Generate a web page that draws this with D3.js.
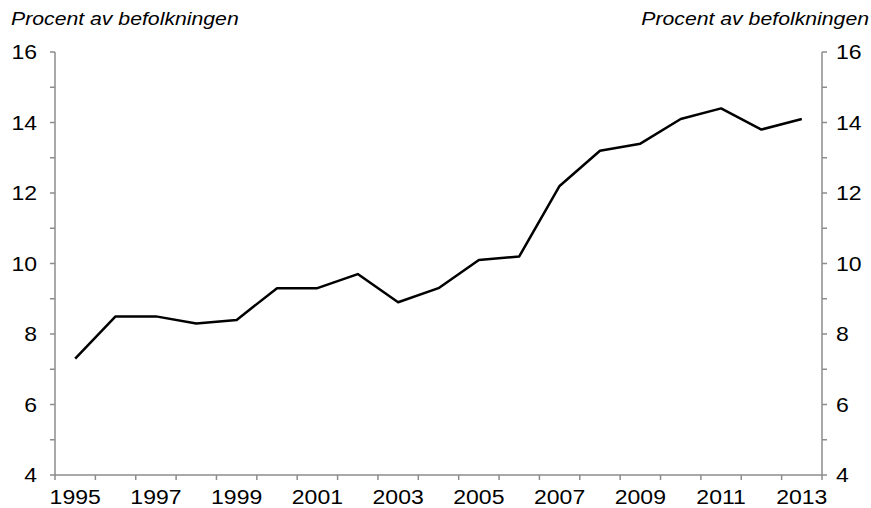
<!DOCTYPE html>
<html>
<head>
<meta charset="utf-8">
<script src="https://cdn.jsdelivr.net/npm/d3@7"></script>
<style>
  body { margin: 0; background: #fff; }
  text { font-family: "Liberation Sans", Arial, sans-serif; }
</style>
</head>
<body>
<div id="chart"></div>
<script>
// data
var years = [1995, 1996, 1997, 1998, 1999, 2000, 2001, 2002, 2003, 2004,
             2005, 2006, 2007, 2008, 2009, 2010, 2011, 2012, 2013];
var values = [7.3, 8.5, 8.5, 8.3, 8.4, 9.3, 9.3, 9.7, 8.9, 9.3,
              10.1, 10.2, 12.2, 13.2, 13.4, 14.1, 14.4, 13.8, 14.1];
var yTicks = [4, 6, 8, 10, 12, 14, 16];
var yMinor = [5, 7, 9, 11, 13, 15];
var axisTitle = "Procent av befolkningen";

var W = 871, H = 508;
var margin = { top: 52, right: 49, bottom: 33, left: 55 };
var width = W - margin.left - margin.right,
    height = H - margin.top - margin.bottom;

// the original text is a little wider than it is tall
var stretch = 1.18;

var svg = d3.select("#chart").append("svg")
  .attr("width", W)
  .attr("height", H);

var g = svg.append("g")
  .attr("transform", "translate(" + margin.left + "," + margin.top + ")");

var x = d3.scaleBand().domain(years).range([0, width]);
var y = d3.scaleLinear().domain([4, 16]).range([height, 0]);

var axisColor = "#8c8c8c";

function label(parent, px, py, txt, anchor, size, italic) {
  return parent.append("text")
    .attr("transform", "translate(" + px + "," + py + ") scale(" + stretch + ",1)")
    .attr("text-anchor", anchor)
    .attr("font-size", size)
    .attr("font-style", italic ? "italic" : "normal")
    .attr("fill", "#000")
    .text(txt);
}

// axis lines
g.append("line").attr("x1", 0).attr("x2", 0).attr("y1", 0).attr("y2", height)
  .attr("stroke", axisColor).attr("stroke-width", 1.5);
g.append("line").attr("x1", width).attr("x2", width).attr("y1", 0).attr("y2", height)
  .attr("stroke", axisColor).attr("stroke-width", 1.5);
g.append("line").attr("x1", 0).attr("x2", width).attr("y1", height).attr("y2", height)
  .attr("stroke", axisColor).attr("stroke-width", 1.5);

// y ticks both sides
yTicks.concat(yMinor).forEach(function (v) {
  g.append("line").attr("x1", -5).attr("x2", 0).attr("y1", y(v)).attr("y2", y(v))
    .attr("stroke", axisColor).attr("stroke-width", 1.5);
  g.append("line").attr("x1", width).attr("x2", width + 5).attr("y1", y(v)).attr("y2", y(v))
    .attr("stroke", axisColor).attr("stroke-width", 1.5);
});

yTicks.forEach(function (v) {
  label(g, -18, y(v) + 7, v, "end", 19.5);
  label(g, width + 14, y(v) + 7, v, "start", 19.5);
});

// x ticks at band edges
years.map(function (d) { return x(d); }).concat([width]).forEach(function (px) {
  g.append("line").attr("x1", px).attr("x2", px).attr("y1", height).attr("y2", height + 5)
    .attr("stroke", axisColor).attr("stroke-width", 1.5);
});

years.forEach(function (d, i) {
  if (i % 2 !== 0) return;
  label(g, x(d) + x.bandwidth() / 2, height + 29, d, "middle", 19.5);
});

// line
var line = d3.line()
  .x(function (d, i) { return x(years[i]) + x.bandwidth() / 2; })
  .y(function (d) { return y(d); });

g.append("path").datum(values)
  .attr("fill", "none").attr("stroke", "#000").attr("stroke-width", 2.5)
  .attr("stroke-linejoin", "round")
  .attr("d", line);

// axis titles
label(svg, 11, 25, axisTitle, "start", 18, true);
label(svg, 869, 25, axisTitle, "end", 18, true);
</script>
</body>
</html>
